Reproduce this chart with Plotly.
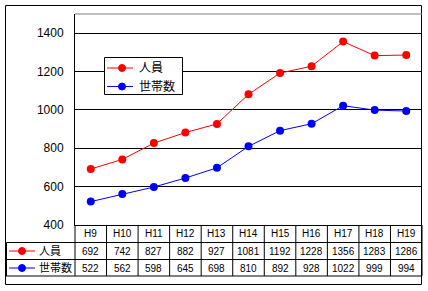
import plotly.graph_objects as go

categories = ["H9", "H10", "H11", "H12", "H13", "H14", "H15", "H16", "H17", "H18", "H19"]
jinin = [692, 742, 827, 882, 927, 1081, 1192, 1228, 1356, 1283, 1286]
setai = [522, 562, 598, 645, 698, 810, 892, 928, 1022, 999, 994]
series_names = ["人員", "世帯数"]
series_values = [jinin, setai]
colors = ["#FF0000", "#0000FF"]
y_ticks = [400, 600, 800, 1000, 1200, 1400]

W, H = 428, 291
L, R, T, B = 75, 422, 14, 225
FONT = "Liberation Sans, Noto Sans CJK JP, sans-serif"


def px(x):
    return (x - L) / (R - L)


def py(y):
    return (B - y) / (B - T)


fig = go.Figure()
for name, vals, col in zip(series_names, series_values, colors):
    fig.add_trace(go.Scatter(
        x=categories, y=vals, name=name, mode="lines+markers",
        line=dict(color=col, width=1),
        marker=dict(color=col, size=8, symbol="circle"),
        showlegend=False, cliponaxis=False,
    ))

shapes = []
line_k = dict(color="black", width=1)
# outer border
shapes.append(dict(type="rect", xref="paper", yref="paper",
                   x0=px(5.5), x1=px(421.5), y0=py(5.5), y1=py(284.5),
                   line=line_k, layer="above"))
# top plot border (gray)
shapes.append(dict(type="line", xref="paper", yref="paper",
                   x0=0, x1=1, y0=1, y1=1,
                   line=dict(color="#808080", width=1)))
# table horizontal lines
for yy, x0 in [(242.5, 6.5), (259.5, 6.5), (276, 5.5)]:
    shapes.append(dict(type="line", xref="paper", yref="paper",
                       x0=px(x0), x1=px(421.5), y0=py(yy), y1=py(yy), line=line_k))
# table left column line
shapes.append(dict(type="line", xref="paper", yref="paper",
                   x0=px(6.5), x1=px(6.5), y0=py(242.5), y1=py(276), line=line_k))
# column separators
n = len(categories)
for i in range(n + 1):
    shapes.append(dict(type="line", xref="paper", yref="paper",
                       x0=i / n, x1=i / n, y0=py(225), y1=py(276), line=line_k))

annotations = []
rows_y = [233.5, 251, 268]
for i, c in enumerate(categories):
    annotations.append(dict(text=c, x=c, xref="x", y=py(rows_y[0]), yref="paper",
                            showarrow=False, xanchor="center", yanchor="middle",
                            font=dict(size=10, family=FONT, color="black")))
    for r, vals in enumerate(series_values):
        annotations.append(dict(text=str(vals[i]), x=c, xref="x", y=py(rows_y[r + 1]),
                                yref="paper", showarrow=False, xanchor="center",
                                yanchor="middle",
                                font=dict(size=10, family=FONT, color="black")))

# table legend keys
for r, (name, col) in enumerate(zip(series_names, colors)):
    yy = rows_y[r + 1]
    shapes.append(dict(type="line", xref="paper", yref="paper",
                       x0=px(9), x1=px(35), y0=py(yy), y1=py(yy),
                       line=dict(color=col, width=1)))
    shapes.append(dict(type="circle", xref="paper", yref="paper",
                       x0=px(18.5), x1=px(25.5), y0=py(yy - 3.5), y1=py(yy + 3.5),
                       fillcolor=col, line=dict(color=col, width=1)))
    annotations.append(dict(text=name, x=px(37), xref="paper", y=py(yy), yref="paper",
                            showarrow=False, xanchor="left", yanchor="middle",
                            font=dict(size=11, family=FONT, color="black")))

# chart legend box
shapes.append(dict(type="rect", xref="paper", yref="paper",
                   x0=px(104.5), x1=px(182.5), y0=py(57.5), y1=py(94.5),
                   fillcolor="white", line=line_k, layer="above"))
for r, (name, col) in enumerate(zip(series_names, colors)):
    yy = [68, 86.5][r]
    shapes.append(dict(type="line", xref="paper", yref="paper",
                       x0=px(107), x1=px(133), y0=py(yy), y1=py(yy),
                       line=dict(color=col, width=1), layer="above"))
    shapes.append(dict(type="circle", xref="paper", yref="paper",
                       x0=px(118.5), x1=px(125.5), y0=py(yy - 3.5), y1=py(yy + 3.5),
                       fillcolor=col, line=dict(color=col, width=1), layer="above"))
    annotations.append(dict(text=name, x=px(137), xref="paper", y=py(yy), yref="paper",
                            showarrow=False, xanchor="left", yanchor="middle",
                            font=dict(size=12, family=FONT, color="black")))

fig.update_layout(
    width=W, height=H,
    margin=dict(l=L, r=W - R, t=T, b=H - B, pad=0),
    paper_bgcolor="white", plot_bgcolor="white",
    showlegend=False,
    shapes=shapes, annotations=annotations,
    font=dict(family=FONT, size=12, color="black"),
    xaxis=dict(type="category", range=[-0.5, n - 0.5], showticklabels=False,
               showgrid=False, zeroline=False, showline=True, linecolor="black",
               linewidth=1, ticks="", fixedrange=True),
    yaxis=dict(range=[400, 1500], tickvals=y_ticks, showgrid=True, gridcolor="black",
               gridwidth=1, zeroline=False, showline=True, linecolor="black",
               linewidth=1, ticks="", ticklabelstandoff=8,
               tickfont=dict(size=12, family=FONT, color="black")),
)

fig.write_html("out.html")
